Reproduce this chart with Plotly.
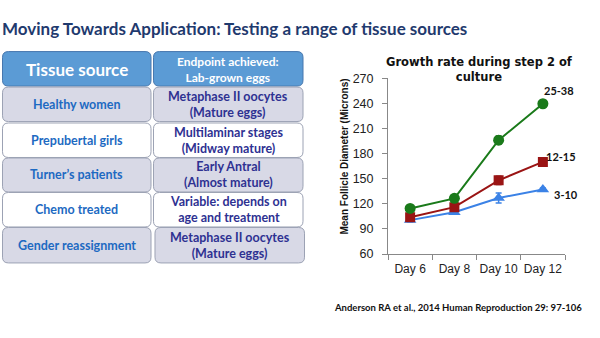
import plotly.graph_objects as go

W, H = 600, 338

days = ["Day 6", "Day 8", "Day 10", "Day 12"]
green_vals = [114.5, 126.5, 196, 239.5]
green_err = [3, 3, 5, 3]
red_vals = [104, 116, 148, 170]
red_err = [4, 3, 5, 5]
blue_vals = [100.5, 110, 127, 137]
blue_err = [2, 2, 6, 2]
series_labels = ["25-38", "12-15", "3-10"]

y_ticks = [60, 90, 120, 150, 180, 210, 240, 270]

tissue_sources = ["Healthy women", "Prepubertal girls", "Turner\u2019s patients",
                  "Chemo treated", "Gender reassignment"]
endpoints = ["Metaphase II oocytes<br>(Mature eggs)",
             "Multilaminar stages<br>(Midway mature)",
             "Early Antral<br>(Almost mature)",
             "Variable: depends on<br>age and treatment",
             "Metaphase II oocytes<br>(Mature eggs)"]
header_left = "Tissue source"
header_right = "Endpoint achieved:<br>Lab-grown eggs"


def px(x):
    return x / W


def py(y):
    return 1 - y / H


def rr(x0, y0, x1, y1, r):
    pts = [
        ("M", [(x0 + r, y0)]),
        ("L", [(x1 - r, y0)]),
        ("Q", [(x1, y0), (x1, y0 + r)]),
        ("L", [(x1, y1 - r)]),
        ("Q", [(x1, y1), (x1 - r, y1)]),
        ("L", [(x0 + r, y1)]),
        ("Q", [(x0, y1), (x0, y1 - r)]),
        ("L", [(x0, y0 + r)]),
        ("Q", [(x0, y0), (x0 + r, y0)]),
    ]
    s = ""
    for cmd, ps in pts:
        s += cmd + " " + " ".join(f"{px(a):.5f},{py(b):.5f}" for a, b in ps) + " "
    return s + "Z"


def ann(x, y, text, font, xanchor="center", yanchor="middle", **kw):
    d = dict(x=x, y=y, xref="paper", yref="paper", text=text, showarrow=False,
             xanchor=xanchor, yanchor=yanchor, font=font)
    d.update(kw)
    return d


fig = go.Figure()

fig.add_trace(go.Scatter(x=days, y=blue_vals, mode="lines+markers",
                         line=dict(color="#3B82E6", width=2),
                         marker=dict(symbol="triangle-up", size=11, color="#3B82E6"),
                         error_y=dict(type="data", array=blue_err, color="#3B82E6", thickness=1.5, width=3),
                         showlegend=False))
fig.add_trace(go.Scatter(x=days, y=red_vals, mode="lines+markers",
                         line=dict(color="#9A1414", width=2),
                         marker=dict(symbol="square", size=10, color="#9A1414"),
                         error_y=dict(type="data", array=red_err, color="#7A1010", thickness=1.5, width=3),
                         showlegend=False))
fig.add_trace(go.Scatter(x=days, y=green_vals, mode="lines+markers",
                         line=dict(color="#1A7A1A", width=2),
                         marker=dict(symbol="circle", size=11, color="#1A7A1A"),
                         error_y=dict(type="data", array=green_err, color="#145F14", thickness=1.5, width=3),
                         showlegend=False))

shapes = []
annotations = []

# table
rows_y = [(83.5, 119.5), (121, 157), (157.5, 193), (193.5, 229.5), (230, 267)]
lx0, lx1 = 2.5, 151
rx0, rx1 = 153.5, 303
shapes.append(dict(type="path", path=rr(lx0, 46.5, lx1, 82.5, 6), xref="paper", yref="paper",
                   fillcolor="#5B9BD5", line=dict(color="#4777AE", width=1), layer="below"))
shapes.append(dict(type="path", path=rr(rx0, 46.5, rx1, 82.5, 6), xref="paper", yref="paper",
                   fillcolor="#5B9BD5", line=dict(color="#4777AE", width=1), layer="below"))
annotations.append(ann(px((lx0 + lx1) / 2), py(65), "<b>" + header_left + "</b>",
                       dict(family="Lato", size=17, color="white")))
annotations.append(ann(px((rx0 + rx1) / 2), py(65), "<b>" + header_right + "</b>",
                       dict(family="Lato", size=12, color="white"), align="center"))
for i, (y0, y1) in enumerate(rows_y):
    fill = "#D8D9E6" if i % 2 == 0 else "#FFFFFF"
    off = 1.5 if i == 4 else 0
    shapes.append(dict(type="path", path=rr(lx0, y0, lx1, y1, 6), xref="paper", yref="paper",
                       fillcolor=fill, line=dict(color="#9CA2B4", width=1), layer="below"))
    shapes.append(dict(type="path", path=rr(rx0 + off, y0, rx1 + off, y1, 6), xref="paper", yref="paper",
                       fillcolor=fill, line=dict(color="#9CA2B4", width=1), layer="below"))
    cy = (y0 + y1) / 2
    annotations.append(ann(px((lx0 + lx1) / 2), py(cy), "<b>" + tissue_sources[i] + "</b>",
                           dict(family="Lato", size=12.5, color="#1D6AC2")))
    annotations.append(ann(px((rx0 + rx1) / 2 + off), py(cy), "<b>" + endpoints[i] + "</b>",
                           dict(family="Lato", size=12.5, color="#2E3192"), align="center"))

# slide title
annotations.append(ann(0, py(22), "<b>Moving Towards Application: Testing a range of tissue sources</b>",
                       dict(family="Lato", size=17, color="#1F3A6E"), xanchor="left"))

# chart title
annotations.append(ann(px(479), py(65), "<b>Growth rate during step 2 of<br>culture</b>",
                       dict(family="DejaVu Sans", size=11.5, color="#111111"), align="center"))
# y-axis title
annotations.append(ann(px(345), py(156), "<b>Mean Follicle Diameter (Microns)</b>",
                       dict(family="Liberation Sans", size=10, color="#111111"), textangle=-90))
# series labels
annotations.append(dict(x=days[3], y=green_vals[3], xref="x", yref="y", xanchor="left", yanchor="middle",
                        xshift=-1, yshift=13, text="<b>" + series_labels[0] + "</b>", showarrow=False,
                        font=dict(family="Lato", size=11, color="#111111")))
annotations.append(dict(x=days[3], y=red_vals[3], xref="x", yref="y", xanchor="left", yanchor="middle",
                        xshift=1, yshift=5, text="<b>" + series_labels[1] + "</b>", showarrow=False,
                        font=dict(family="Lato", size=11, color="#111111")))
annotations.append(dict(x=days[3], y=blue_vals[3], xref="x", yref="y", xanchor="left", yanchor="middle",
                        xshift=9, yshift=-5, text="<b>" + series_labels[2] + "</b>", showarrow=False,
                        font=dict(family="Lato", size=11, color="#111111")))
# citation
annotations.append(ann(px(332), py(313), "<b>Anderson RA et al., 2014 Human Reproduction 29: 97-106</b>",
                       dict(family="Lato", size=9.5, color="#111111"), xanchor="left"))

fig.update_layout(
    width=W, height=H, margin=dict(l=0, r=0, t=0, b=0),
    paper_bgcolor="white", plot_bgcolor="white",
    shapes=shapes, annotations=annotations, showlegend=False,
    xaxis=dict(domain=[px(388), px(565)], type="category", categoryorder="array", categoryarray=days,
               range=[-0.5, 3.5], tickson="boundaries", ticks="outside", ticklen=5, tickcolor="#888888",
               tickangle=0, ticklabelstandoff=4,
               showline=True, linecolor="#888888", linewidth=1, showgrid=False, zeroline=False,
               tickfont=dict(family="Liberation Sans", size=12, color="#222222")),
    yaxis=dict(domain=[py(257.7), py(74.3)], range=[60, 270], tickvals=y_ticks,
               ticks="outside", ticklen=5, tickcolor="#888888", ticklabelstandoff=6,
               showline=True, linecolor="#888888", linewidth=1, showgrid=False, zeroline=False,
               tickfont=dict(family="Liberation Sans", size=12.5, color="#222222")),
)

fig.write_html("out.html")
